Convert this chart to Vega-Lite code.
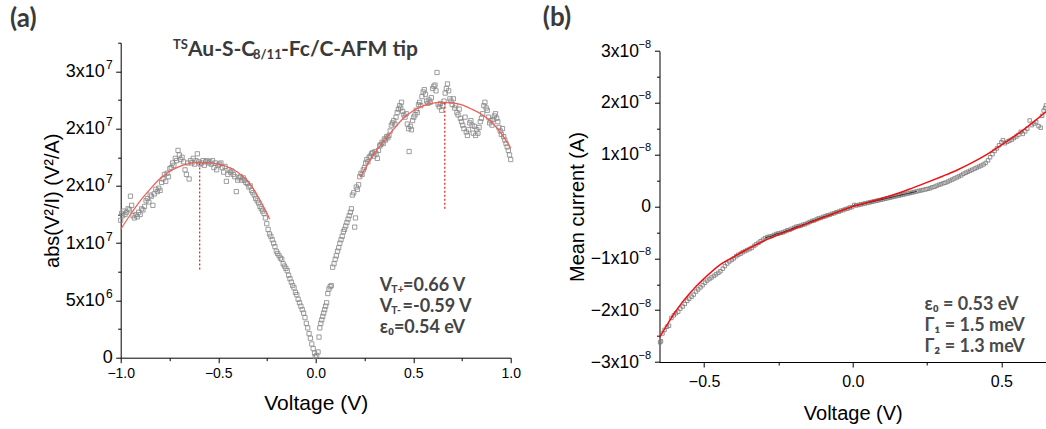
{
  "$schema": "https://vega.github.io/schema/vega-lite/v6.json",
  "background": "white",
  "autosize": {"type": "none"},
  "padding": {"left": 120.7, "top": 42.7, "right": 0, "bottom": 67},
  "width": 925.3,
  "height": 319.3,
  "datasets": {
    "scatterA": [
      {"V": -1.000, "y": 1.20e7}, {"V": -0.995, "y": 1.26e7}, {"V": -0.990, "y": 1.24e7}, {"V": -0.985, "y": 1.28e7}, {"V": -0.978, "y": 1.25e7},
      {"V": -0.970, "y": 1.27e7}, {"V": -0.962, "y": 1.30e7}, {"V": -0.955, "y": 1.29e7}, {"V": -0.950, "y": 1.41e7}, {"V": -0.944, "y": 1.33e7},
      {"V": -0.937, "y": 1.24e7}, {"V": -0.930, "y": 1.22e7}, {"V": -0.922, "y": 1.25e7}, {"V": -0.915, "y": 1.23e7}, {"V": -0.908, "y": 1.27e7},
      {"V": -0.900, "y": 1.25e7}, {"V": -0.893, "y": 1.30e7}, {"V": -0.886, "y": 1.29e7}, {"V": -0.878, "y": 1.32e7}, {"V": -0.870, "y": 1.37e7},
      {"V": -0.863, "y": 1.39e7}, {"V": -0.856, "y": 1.36e7}, {"V": -0.849, "y": 1.42e7}, {"V": -0.842, "y": 1.41e7}, {"V": -0.835, "y": 1.33e7},
      {"V": -0.828, "y": 1.43e7}, {"V": -0.820, "y": 1.47e7}, {"V": -0.812, "y": 1.45e7}, {"V": -0.805, "y": 1.48e7}, {"V": -0.798, "y": 1.46e7},
      {"V": -0.790, "y": 1.53e7}, {"V": -0.783, "y": 1.56e7}, {"V": -0.776, "y": 1.60e7}, {"V": -0.769, "y": 1.54e7}, {"V": -0.762, "y": 1.61e7},
      {"V": -0.755, "y": 1.58e7}, {"V": -0.748, "y": 1.65e7}, {"V": -0.741, "y": 1.66e7}, {"V": -0.734, "y": 1.70e7}, {"V": -0.727, "y": 1.68e7},
      {"V": -0.720, "y": 1.74e7}, {"V": -0.713, "y": 1.72e7}, {"V": -0.706, "y": 1.81e7}, {"V": -0.699, "y": 1.77e7}, {"V": -0.692, "y": 1.73e7},
      {"V": -0.685, "y": 1.75e7}, {"V": -0.678, "y": 1.71e7}, {"V": -0.670, "y": 1.64e7}, {"V": -0.663, "y": 1.60e7}, {"V": -0.656, "y": 1.70e7},
      {"V": -0.649, "y": 1.56e7}, {"V": -0.642, "y": 1.72e7}, {"V": -0.635, "y": 1.70e7}, {"V": -0.628, "y": 1.74e7}, {"V": -0.621, "y": 1.69e7},
      {"V": -0.614, "y": 1.72e7}, {"V": -0.607, "y": 1.78e7}, {"V": -0.600, "y": 1.71e7}, {"V": -0.593, "y": 1.69e7}, {"V": -0.586, "y": 1.70e7},
      {"V": -0.578, "y": 1.72e7}, {"V": -0.571, "y": 1.68e7}, {"V": -0.564, "y": 1.71e7}, {"V": -0.557, "y": 1.72e7}, {"V": -0.550, "y": 1.70e7},
      {"V": -0.543, "y": 1.71e7}, {"V": -0.536, "y": 1.69e7}, {"V": -0.529, "y": 1.72e7}, {"V": -0.522, "y": 1.66e7}, {"V": -0.515, "y": 1.70e7},
      {"V": -0.508, "y": 1.64e7}, {"V": -0.500, "y": 1.68e7}, {"V": -0.493, "y": 1.69e7}, {"V": -0.486, "y": 1.70e7}, {"V": -0.479, "y": 1.66e7},
      {"V": -0.472, "y": 1.62e7}, {"V": -0.465, "y": 1.67e7}, {"V": -0.458, "y": 1.54e7}, {"V": -0.451, "y": 1.60e7}, {"V": -0.444, "y": 1.64e7},
      {"V": -0.437, "y": 1.62e7}, {"V": -0.430, "y": 1.63e7}, {"V": -0.422, "y": 1.60e7}, {"V": -0.415, "y": 1.58e7}, {"V": -0.407, "y": 1.45e7},
      {"V": -0.400, "y": 1.55e7}, {"V": -0.393, "y": 1.57e7}, {"V": -0.386, "y": 1.58e7}, {"V": -0.379, "y": 1.55e7}, {"V": -0.372, "y": 1.57e7},
      {"V": -0.365, "y": 1.55e7}, {"V": -0.358, "y": 1.53e7}, {"V": -0.350, "y": 1.52e7}, {"V": -0.343, "y": 1.49e7}, {"V": -0.336, "y": 1.50e7},
      {"V": -0.329, "y": 1.46e7}, {"V": -0.322, "y": 1.44e7}, {"V": -0.315, "y": 1.42e7}, {"V": -0.308, "y": 1.39e7}, {"V": -0.300, "y": 1.37e7},
      {"V": -0.293, "y": 1.35e7}, {"V": -0.286, "y": 1.32e7}, {"V": -0.279, "y": 1.30e7}, {"V": -0.272, "y": 1.28e7}, {"V": -0.265, "y": 1.26e7},
      {"V": -0.258, "y": 1.22e7}, {"V": -0.251, "y": 1.17e7}, {"V": -0.244, "y": 1.12e7}, {"V": -0.237, "y": 1.08e7}, {"V": -0.230, "y": 1.06e7},
      {"V": -0.223, "y": 1.03e7}, {"V": -0.216, "y": 1.00e7}, {"V": -0.209, "y": 0.97e7}, {"V": -0.202, "y": 0.93e7}, {"V": -0.195, "y": 0.91e7},
      {"V": -0.188, "y": 0.89e7}, {"V": -0.181, "y": 0.87e7}, {"V": -0.174, "y": 0.86e7}, {"V": -0.167, "y": 0.82e7}, {"V": -0.160, "y": 0.80e7},
      {"V": -0.153, "y": 0.78e7}, {"V": -0.146, "y": 0.76e7}, {"V": -0.139, "y": 0.72e7}, {"V": -0.132, "y": 0.69e7}, {"V": -0.125, "y": 0.66e7},
      {"V": -0.118, "y": 0.63e7}, {"V": -0.111, "y": 0.61e7}, {"V": -0.104, "y": 0.57e7}, {"V": -0.097, "y": 0.55e7}, {"V": -0.090, "y": 0.51e7},
      {"V": -0.083, "y": 0.48e7}, {"V": -0.076, "y": 0.45e7}, {"V": -0.069, "y": 0.42e7}, {"V": -0.062, "y": 0.39e7}, {"V": -0.055, "y": 0.35e7},
      {"V": -0.048, "y": 0.30e7}, {"V": -0.041, "y": 0.26e7}, {"V": -0.034, "y": 0.21e7}, {"V": -0.027, "y": 0.17e7}, {"V": -0.020, "y": 0.12e7},
      {"V": -0.013, "y": 0.08e7}, {"V": -0.006, "y": 0.04e7}, {"V": -0.002, "y": 0.01e7}, {"V": 0.005, "y": 0.02e7}, {"V": 0.012, "y": 0.05e7},
      {"V": 0.017, "y": 0.18e7}, {"V": 0.021, "y": 0.26e7}, {"V": 0.026, "y": 0.30e7}, {"V": 0.031, "y": 0.33e7}, {"V": 0.036, "y": 0.36e7},
      {"V": 0.041, "y": 0.39e7}, {"V": 0.046, "y": 0.42e7}, {"V": 0.051, "y": 0.45e7}, {"V": 0.056, "y": 0.48e7}, {"V": 0.062, "y": 0.56e7},
      {"V": 0.068, "y": 0.60e7}, {"V": 0.074, "y": 0.62e7}, {"V": 0.080, "y": 0.63e7}, {"V": 0.087, "y": 0.79e7}, {"V": 0.094, "y": 0.82e7},
      {"V": 0.100, "y": 0.86e7}, {"V": 0.106, "y": 0.89e7}, {"V": 0.112, "y": 0.93e7}, {"V": 0.118, "y": 0.96e7}, {"V": 0.124, "y": 1.00e7},
      {"V": 0.130, "y": 1.03e7}, {"V": 0.136, "y": 1.06e7}, {"V": 0.142, "y": 1.10e7}, {"V": 0.148, "y": 1.12e7}, {"V": 0.154, "y": 1.15e7},
      {"V": 0.160, "y": 1.18e7}, {"V": 0.166, "y": 1.21e7}, {"V": 0.172, "y": 1.24e7}, {"V": 0.178, "y": 1.27e7}, {"V": 0.183, "y": 1.30e7},
      {"V": 0.188, "y": 1.42e7}, {"V": 0.195, "y": 1.44e7}, {"V": 0.200, "y": 1.14e7}, {"V": 0.204, "y": 1.22e7}, {"V": 0.208, "y": 1.49e7},
      {"V": 0.214, "y": 1.47e7}, {"V": 0.220, "y": 1.51e7}, {"V": 0.226, "y": 1.58e7}, {"V": 0.232, "y": 1.61e7}, {"V": 0.238, "y": 1.60e7},
      {"V": 0.244, "y": 1.64e7}, {"V": 0.250, "y": 1.66e7}, {"V": 0.256, "y": 1.70e7}, {"V": 0.262, "y": 1.73e7}, {"V": 0.268, "y": 1.71e7},
      {"V": 0.274, "y": 1.75e7}, {"V": 0.280, "y": 1.76e7}, {"V": 0.286, "y": 1.78e7}, {"V": 0.292, "y": 1.79e7}, {"V": 0.298, "y": 1.76e7},
      {"V": 0.304, "y": 1.80e7}, {"V": 0.310, "y": 1.78e7}, {"V": 0.316, "y": 1.74e7}, {"V": 0.322, "y": 1.81e7}, {"V": 0.328, "y": 1.85e7},
      {"V": 0.334, "y": 1.86e7}, {"V": 0.340, "y": 1.88e7}, {"V": 0.346, "y": 1.87e7}, {"V": 0.352, "y": 1.91e7}, {"V": 0.358, "y": 1.90e7},
      {"V": 0.364, "y": 1.93e7}, {"V": 0.370, "y": 1.92e7}, {"V": 0.376, "y": 1.94e7}, {"V": 0.382, "y": 1.98e7}, {"V": 0.388, "y": 2.03e7},
      {"V": 0.394, "y": 2.05e7}, {"V": 0.400, "y": 2.07e7}, {"V": 0.406, "y": 2.04e7}, {"V": 0.412, "y": 2.10e7}, {"V": 0.418, "y": 2.14e7},
      {"V": 0.424, "y": 2.17e7}, {"V": 0.430, "y": 2.20e7}, {"V": 0.436, "y": 2.18e7}, {"V": 0.440, "y": 2.23e7}, {"V": 0.446, "y": 2.15e7},
      {"V": 0.452, "y": 2.12e7}, {"V": 0.458, "y": 2.10e7}, {"V": 0.464, "y": 2.13e7}, {"V": 0.470, "y": 2.04e7}, {"V": 0.476, "y": 2.00e7},
      {"V": 0.479, "y": 1.80e7}, {"V": 0.485, "y": 2.02e7}, {"V": 0.491, "y": 1.99e7}, {"V": 0.497, "y": 2.07e7}, {"V": 0.503, "y": 2.10e7},
      {"V": 0.509, "y": 2.12e7}, {"V": 0.515, "y": 2.16e7}, {"V": 0.521, "y": 2.14e7}, {"V": 0.527, "y": 2.21e7}, {"V": 0.533, "y": 2.23e7},
      {"V": 0.539, "y": 2.20e7}, {"V": 0.545, "y": 2.28e7}, {"V": 0.551, "y": 2.32e7}, {"V": 0.557, "y": 2.34e7}, {"V": 0.563, "y": 2.30e7},
      {"V": 0.569, "y": 2.24e7}, {"V": 0.575, "y": 2.22e7}, {"V": 0.581, "y": 2.25e7}, {"V": 0.587, "y": 2.23e7}, {"V": 0.593, "y": 2.27e7},
      {"V": 0.600, "y": 2.35e7}, {"V": 0.606, "y": 2.37e7}, {"V": 0.612, "y": 2.38e7}, {"V": 0.617, "y": 2.33e7}, {"V": 0.622, "y": 2.49e7},
      {"V": 0.628, "y": 2.21e7}, {"V": 0.634, "y": 2.19e7}, {"V": 0.640, "y": 2.22e7}, {"V": 0.646, "y": 2.16e7}, {"V": 0.652, "y": 2.20e7},
      {"V": 0.658, "y": 2.24e7}, {"V": 0.664, "y": 2.31e7}, {"V": 0.670, "y": 2.35e7}, {"V": 0.676, "y": 2.39e7}, {"V": 0.682, "y": 2.33e7},
      {"V": 0.688, "y": 2.26e7}, {"V": 0.694, "y": 2.24e7}, {"V": 0.700, "y": 2.21e7}, {"V": 0.706, "y": 2.26e7}, {"V": 0.712, "y": 2.18e7},
      {"V": 0.718, "y": 2.20e7}, {"V": 0.724, "y": 2.14e7}, {"V": 0.730, "y": 2.12e7}, {"V": 0.736, "y": 2.17e7}, {"V": 0.742, "y": 2.09e7},
      {"V": 0.748, "y": 2.06e7}, {"V": 0.754, "y": 2.03e7}, {"V": 0.760, "y": 2.00e7}, {"V": 0.766, "y": 2.10e7}, {"V": 0.772, "y": 1.97e7},
      {"V": 0.778, "y": 1.94e7}, {"V": 0.784, "y": 1.99e7}, {"V": 0.790, "y": 2.05e7}, {"V": 0.796, "y": 2.07e7}, {"V": 0.802, "y": 2.03e7},
      {"V": 0.808, "y": 1.96e7}, {"V": 0.814, "y": 2.02e7}, {"V": 0.820, "y": 1.94e7}, {"V": 0.826, "y": 1.99e7}, {"V": 0.832, "y": 1.96e7},
      {"V": 0.838, "y": 2.01e7}, {"V": 0.844, "y": 2.06e7}, {"V": 0.850, "y": 2.09e7}, {"V": 0.856, "y": 2.13e7}, {"V": 0.862, "y": 2.20e7},
      {"V": 0.868, "y": 2.23e7}, {"V": 0.874, "y": 2.18e7}, {"V": 0.880, "y": 2.16e7}, {"V": 0.886, "y": 2.10e7}, {"V": 0.892, "y": 2.05e7},
      {"V": 0.898, "y": 2.07e7}, {"V": 0.904, "y": 2.03e7}, {"V": 0.910, "y": 2.08e7}, {"V": 0.916, "y": 2.11e7}, {"V": 0.922, "y": 2.13e7},
      {"V": 0.928, "y": 2.09e7}, {"V": 0.934, "y": 2.06e7}, {"V": 0.940, "y": 2.01e7}, {"V": 0.946, "y": 1.98e7}, {"V": 0.952, "y": 1.95e7},
      {"V": 0.958, "y": 2.00e7}, {"V": 0.964, "y": 1.93e7}, {"V": 0.970, "y": 1.90e7}, {"V": 0.976, "y": 1.87e7}, {"V": 0.982, "y": 1.84e7},
      {"V": 0.988, "y": 1.81e7}, {"V": 0.994, "y": 1.77e7}, {"V": 1.000, "y": 1.73e7}
    ],
    "fitA": [
      {"seg": "neg", "V": -1.00, "y": 1.12e7}, {"seg": "neg", "V": -0.95, "y": 1.25e7}, {"seg": "neg", "V": -0.90, "y": 1.37e7},
      {"seg": "neg", "V": -0.85, "y": 1.47e7}, {"seg": "neg", "V": -0.80, "y": 1.56e7}, {"seg": "neg", "V": -0.75, "y": 1.625e7},
      {"seg": "neg", "V": -0.70, "y": 1.668e7}, {"seg": "neg", "V": -0.65, "y": 1.694e7}, {"seg": "neg", "V": -0.60, "y": 1.705e7},
      {"seg": "neg", "V": -0.55, "y": 1.702e7}, {"seg": "neg", "V": -0.50, "y": 1.69e7}, {"seg": "neg", "V": -0.45, "y": 1.665e7},
      {"seg": "neg", "V": -0.40, "y": 1.62e7}, {"seg": "neg", "V": -0.35, "y": 1.545e7}, {"seg": "neg", "V": -0.30, "y": 1.42e7},
      {"seg": "neg", "V": -0.25, "y": 1.26e7}, {"seg": "neg", "V": -0.236, "y": 1.208e7},
      {"seg": "pos", "V": 0.229, "y": 1.574e7}, {"seg": "pos", "V": 0.25, "y": 1.64e7}, {"seg": "pos", "V": 0.30, "y": 1.78e7},
      {"seg": "pos", "V": 0.35, "y": 1.89e7}, {"seg": "pos", "V": 0.40, "y": 1.995e7}, {"seg": "pos", "V": 0.45, "y": 2.09e7},
      {"seg": "pos", "V": 0.50, "y": 2.155e7}, {"seg": "pos", "V": 0.55, "y": 2.198e7}, {"seg": "pos", "V": 0.60, "y": 2.222e7},
      {"seg": "pos", "V": 0.65, "y": 2.229e7}, {"seg": "pos", "V": 0.70, "y": 2.225e7}, {"seg": "pos", "V": 0.75, "y": 2.207e7},
      {"seg": "pos", "V": 0.80, "y": 2.17e7}, {"seg": "pos", "V": 0.85, "y": 2.125e7}, {"seg": "pos", "V": 0.90, "y": 2.06e7},
      {"seg": "pos", "V": 0.95, "y": 1.96e7}, {"seg": "pos", "V": 1.00, "y": 1.832e7}
    ],
    "dotA": [
      {"V": -0.595, "y": 0.77e7, "y2": 1.705e7},
      {"V": 0.662, "y": 1.30e7, "y2": 2.229e7}
    ],
    "scatterB": [
      {"V": -0.648, "I": -2.62e-8}, {"V": -0.645, "I": -2.60e-8}, {"V": -0.640, "I": -2.45e-8}, {"V": -0.633, "I": -2.38e-8}, {"V": -0.625, "I": -2.32e-8},
      {"V": -0.618, "I": -2.30e-8}, {"V": -0.610, "I": -2.15e-8}, {"V": -0.602, "I": -2.10e-8}, {"V": -0.595, "I": -2.06e-8}, {"V": -0.587, "I": -2.03e-8},
      {"V": -0.580, "I": -1.97e-8}, {"V": -0.572, "I": -1.93e-8}, {"V": -0.565, "I": -1.88e-8}, {"V": -0.557, "I": -1.82e-8}, {"V": -0.550, "I": -1.78e-8},
      {"V": -0.542, "I": -1.74e-8}, {"V": -0.535, "I": -1.70e-8}, {"V": -0.527, "I": -1.64e-8}, {"V": -0.520, "I": -1.60e-8}, {"V": -0.512, "I": -1.56e-8},
      {"V": -0.505, "I": -1.52e-8}, {"V": -0.497, "I": -1.47e-8}, {"V": -0.490, "I": -1.43e-8}, {"V": -0.482, "I": -1.40e-8}, {"V": -0.475, "I": -1.37e-8},
      {"V": -0.467, "I": -1.34e-8}, {"V": -0.460, "I": -1.31e-8}, {"V": -0.452, "I": -1.28e-8}, {"V": -0.445, "I": -1.25e-8}, {"V": -0.437, "I": -1.20e-8},
      {"V": -0.430, "I": -1.15e-8}, {"V": -0.422, "I": -1.10e-8}, {"V": -0.415, "I": -1.06e-8}, {"V": -0.407, "I": -1.03e-8}, {"V": -0.400, "I": -1.00e-8},
      {"V": -0.392, "I": -0.96e-8}, {"V": -0.385, "I": -0.93e-8}, {"V": -0.377, "I": -0.91e-8}, {"V": -0.370, "I": -0.88e-8}, {"V": -0.362, "I": -0.86e-8},
      {"V": -0.355, "I": -0.84e-8}, {"V": -0.347, "I": -0.82e-8}, {"V": -0.340, "I": -0.80e-8}, {"V": -0.332, "I": -0.76e-8}, {"V": -0.325, "I": -0.73e-8},
      {"V": -0.317, "I": -0.70e-8}, {"V": -0.310, "I": -0.67e-8}, {"V": -0.302, "I": -0.64e-8}, {"V": -0.295, "I": -0.61e-8}, {"V": -0.287, "I": -0.59e-8},
      {"V": -0.280, "I": -0.58e-8}, {"V": -0.272, "I": -0.57e-8}, {"V": -0.265, "I": -0.55e-8}, {"V": -0.257, "I": -0.53e-8}, {"V": -0.250, "I": -0.52e-8},
      {"V": -0.242, "I": -0.51e-8}, {"V": -0.235, "I": -0.50e-8}, {"V": -0.227, "I": -0.48e-8}, {"V": -0.220, "I": -0.46e-8}, {"V": -0.212, "I": -0.45e-8},
      {"V": -0.205, "I": -0.43e-8}, {"V": -0.197, "I": -0.41e-8}, {"V": -0.190, "I": -0.39e-8}, {"V": -0.182, "I": -0.38e-8}, {"V": -0.175, "I": -0.37e-8},
      {"V": -0.167, "I": -0.35e-8}, {"V": -0.160, "I": -0.34e-8}, {"V": -0.152, "I": -0.32e-8}, {"V": -0.145, "I": -0.30e-8}, {"V": -0.137, "I": -0.28e-8},
      {"V": -0.130, "I": -0.27e-8}, {"V": -0.122, "I": -0.25e-8}, {"V": -0.115, "I": -0.23e-8}, {"V": -0.107, "I": -0.22e-8}, {"V": -0.100, "I": -0.20e-8},
      {"V": -0.092, "I": -0.19e-8}, {"V": -0.085, "I": -0.17e-8}, {"V": -0.077, "I": -0.16e-8}, {"V": -0.070, "I": -0.14e-8}, {"V": -0.062, "I": -0.13e-8},
      {"V": -0.055, "I": -0.11e-8}, {"V": -0.047, "I": -0.10e-8}, {"V": -0.040, "I": -0.08e-8}, {"V": -0.032, "I": -0.07e-8}, {"V": -0.025, "I": -0.05e-8},
      {"V": -0.017, "I": -0.04e-8}, {"V": -0.010, "I": -0.02e-8}, {"V": -0.002, "I": -0.01e-8}, {"V": 0.005, "I": 0.03e-8}, {"V": 0.012, "I": 0.02e-8},
      {"V": 0.020, "I": 0.03e-8}, {"V": 0.027, "I": 0.04e-8}, {"V": 0.035, "I": 0.05e-8}, {"V": 0.042, "I": 0.06e-8}, {"V": 0.050, "I": 0.07e-8},
      {"V": 0.057, "I": 0.08e-8}, {"V": 0.065, "I": 0.09e-8}, {"V": 0.072, "I": 0.10e-8}, {"V": 0.080, "I": 0.11e-8}, {"V": 0.087, "I": 0.12e-8},
      {"V": 0.095, "I": 0.13e-8}, {"V": 0.102, "I": 0.14e-8}, {"V": 0.110, "I": 0.15e-8}, {"V": 0.117, "I": 0.16e-8}, {"V": 0.125, "I": 0.17e-8},
      {"V": 0.132, "I": 0.18e-8}, {"V": 0.140, "I": 0.19e-8}, {"V": 0.147, "I": 0.20e-8}, {"V": 0.155, "I": 0.21e-8}, {"V": 0.162, "I": 0.22e-8},
      {"V": 0.170, "I": 0.23e-8}, {"V": 0.177, "I": 0.24e-8}, {"V": 0.185, "I": 0.25e-8}, {"V": 0.192, "I": 0.26e-8}, {"V": 0.200, "I": 0.27e-8},
      {"V": 0.207, "I": 0.28e-8}, {"V": 0.215, "I": 0.29e-8}, {"V": 0.222, "I": 0.30e-8}, {"V": 0.230, "I": 0.31e-8}, {"V": 0.237, "I": 0.32e-8},
      {"V": 0.245, "I": 0.33e-8}, {"V": 0.252, "I": 0.34e-8}, {"V": 0.260, "I": 0.35e-8}, {"V": 0.267, "I": 0.37e-8}, {"V": 0.275, "I": 0.38e-8},
      {"V": 0.282, "I": 0.40e-8}, {"V": 0.290, "I": 0.42e-8}, {"V": 0.297, "I": 0.43e-8}, {"V": 0.305, "I": 0.45e-8}, {"V": 0.312, "I": 0.46e-8},
      {"V": 0.320, "I": 0.48e-8}, {"V": 0.327, "I": 0.50e-8}, {"V": 0.335, "I": 0.52e-8}, {"V": 0.342, "I": 0.54e-8}, {"V": 0.350, "I": 0.56e-8},
      {"V": 0.357, "I": 0.58e-8}, {"V": 0.365, "I": 0.60e-8}, {"V": 0.372, "I": 0.63e-8}, {"V": 0.380, "I": 0.65e-8}, {"V": 0.387, "I": 0.67e-8},
      {"V": 0.395, "I": 0.69e-8}, {"V": 0.402, "I": 0.71e-8}, {"V": 0.410, "I": 0.73e-8}, {"V": 0.417, "I": 0.75e-8}, {"V": 0.425, "I": 0.77e-8},
      {"V": 0.432, "I": 0.79e-8}, {"V": 0.440, "I": 0.81e-8}, {"V": 0.447, "I": 0.84e-8}, {"V": 0.455, "I": 0.89e-8}, {"V": 0.462, "I": 0.95e-8},
      {"V": 0.470, "I": 1.01e-8}, {"V": 0.477, "I": 1.07e-8}, {"V": 0.485, "I": 1.12e-8}, {"V": 0.492, "I": 1.18e-8}, {"V": 0.500, "I": 1.24e-8},
      {"V": 0.505, "I": 1.28e-8}, {"V": 0.512, "I": 1.22e-8}, {"V": 0.520, "I": 1.25e-8}, {"V": 0.527, "I": 1.27e-8}, {"V": 0.535, "I": 1.29e-8},
      {"V": 0.542, "I": 1.32e-8}, {"V": 0.550, "I": 1.35e-8}, {"V": 0.557, "I": 1.38e-8}, {"V": 0.565, "I": 1.44e-8}, {"V": 0.572, "I": 1.40e-8},
      {"V": 0.580, "I": 1.45e-8}, {"V": 0.587, "I": 1.50e-8}, {"V": 0.595, "I": 1.66e-8}, {"V": 0.602, "I": 1.57e-8}, {"V": 0.610, "I": 1.60e-8},
      {"V": 0.617, "I": 1.63e-8}, {"V": 0.625, "I": 1.55e-8}, {"V": 0.632, "I": 1.52e-8}, {"V": 0.637, "I": 1.75e-8}, {"V": 0.642, "I": 1.85e-8},
      {"V": 0.647, "I": 1.90e-8}, {"V": 0.650, "I": 1.95e-8}
    ],
    "fitB": [
      {"V": -0.65, "I": -2.53e-8}, {"V": -0.62, "I": -2.24e-8}, {"V": -0.60, "I": -2.06e-8}, {"V": -0.575, "I": -1.86e-8},
      {"V": -0.55, "I": -1.69e-8}, {"V": -0.525, "I": -1.53e-8}, {"V": -0.50, "I": -1.39e-8}, {"V": -0.45, "I": -1.14e-8},
      {"V": -0.40, "I": -0.97e-8}, {"V": -0.35, "I": -0.81e-8}, {"V": -0.30, "I": -0.665e-8}, {"V": -0.25, "I": -0.545e-8},
      {"V": -0.20, "I": -0.435e-8}, {"V": -0.15, "I": -0.325e-8}, {"V": -0.10, "I": -0.215e-8}, {"V": -0.05, "I": -0.105e-8},
      {"V": 0.00, "I": 0.0}, {"V": 0.05, "I": 0.08e-8}, {"V": 0.10, "I": 0.16e-8}, {"V": 0.15, "I": 0.25e-8},
      {"V": 0.20, "I": 0.355e-8}, {"V": 0.25, "I": 0.465e-8}, {"V": 0.30, "I": 0.58e-8}, {"V": 0.35, "I": 0.70e-8},
      {"V": 0.40, "I": 0.84e-8}, {"V": 0.45, "I": 1.00e-8}, {"V": 0.50, "I": 1.185e-8}, {"V": 0.55, "I": 1.38e-8},
      {"V": 0.60, "I": 1.595e-8}, {"V": 0.65, "I": 1.825e-8}
    ]
  },
  "resolve": {"scale": {"x": "independent", "y": "independent"}, "axis": {"x": "independent", "y": "independent"}},
  "layer": [
    {
      "encoding": {
        "x": {
          "field": "V", "type": "quantitative",
          "scale": {"domain": [-1, 1], "range": [0, 390], "nice": false, "zero": false},
          "axis": {
            "orient": "bottom", "offset": -4.3, "domain": true, "ticks": true,
            "values": [-1, -0.75, -0.5, -0.25, 0, 0.25, 0.5, 0.75, 1],
            "labelExpr": "abs(datum.value*2 - round(datum.value*2)) > 0.001 ? '' : format(datum.value, '.1f')",
            "tickSize": {"condition": {"test": "abs(datum.value*2 - round(datum.value*2)) > 0.001", "value": 3}, "value": 5},
            "labelFontSize": 14, "labelPadding": 4, "labelFlush": false, "labelOverlap": false,
            "title": "Voltage (V)", "titleFontSize": 21, "titleY": 51.6, "titleBaseline": "alphabetic"
          }
        },
        "y": {
          "field": "y", "type": "quantitative",
          "scale": {"domain": [0, 27500000], "range": [315, 0], "nice": false, "zero": false},
          "axis": {
            "orient": "left", "domain": true, "ticks": true,
            "values": [0, 2500000, 5000000, 7500000, 10000000, 12500000, 15000000, 17500000, 20000000, 22500000, 25000000, 27500000],
            "labelExpr": "datum.value == 5000000 ? '5x10' : datum.value == 10000000 ? '1x10' : (datum.value == 15000000 || datum.value == 20000000) ? '2x10' : datum.value == 25000000 ? '3x10' : ''",
            "tickSize": {"condition": {"test": "datum.value % 5000000 !== 0", "value": 3}, "value": 5},
            "labelFontSize": 18, "labelPadding": 11.5, "labelFlush": false, "labelOverlap": false,
            "title": "abs(V²/I) (V²/A)", "titleFontSize": 20, "titleX": -68, "titleBaseline": "middle"
          }
        }
      },
      "layer": [
        {
          "data": {"name": "scatterA"},
          "mark": {"type": "point", "shape": "square", "filled": false, "size": 18, "stroke": "#858585", "strokeWidth": 0.8, "opacity": 1}
        },
        {
          "data": {"name": "fitA"},
          "mark": {"type": "line", "color": "#f25c54", "strokeWidth": 1.2, "interpolate": "monotone"},
          "encoding": {"detail": {"field": "seg"}}
        },
        {
          "data": {"name": "dotA"},
          "mark": {"type": "rule", "color": "#d8342b", "strokeWidth": 1.3, "strokeDash": [2, 2]},
          "encoding": {"y2": {"field": "y2"}}
        },
        {
          "data": {"values": [{"V": -1.5677, "y": 28910000, "t": "(a)"}]},
          "mark": {"type": "text", "align": "left", "baseline": "alphabetic", "font": "Lato", "fontWeight": "bold", "fontSize": 26, "color": "#3a3a3a"},
          "encoding": {"text": {"field": "t"}}
        },
        {
          "data": {"values": [
            {"V": -0.655, "y": 26330000, "t": "Au-S-C"},
            {"V": -0.178, "y": 26330000, "t": "-Fc/C-AFM tip"}
          ]},
          "mark": {"type": "text", "align": "left", "baseline": "alphabetic", "font": "Lato", "fontWeight": "bold", "fontSize": 21, "color": "#3a3a3a"},
          "encoding": {"text": {"field": "t"}}
        },
        {
          "data": {"values": [{"V": -0.732, "y": 26330000, "t": "TS"}]},
          "mark": {"type": "text", "align": "left", "baseline": "alphabetic", "font": "Lato", "fontWeight": "bold", "fontSize": 13, "dy": -7, "color": "#3a3a3a"},
          "encoding": {"text": {"field": "t"}}
        },
        {
          "data": {"values": [{"V": -0.3215, "y": 26330000, "t": "8/11"}]},
          "mark": {"type": "text", "align": "left", "baseline": "alphabetic", "font": "Lato", "fontWeight": "bold", "fontSize": 13, "dy": 3, "color": "#3a3a3a"},
          "encoding": {"text": {"field": "t"}}
        },
        {
          "data": {"values": [
            {"V": 0.328, "y": 5850000, "t": "V"},
            {"V": 0.448, "y": 5850000, "t": "=0.66 V"},
            {"V": 0.328, "y": 4010000, "t": "V"},
            {"V": 0.445, "y": 4010000, "t": "=-0.59 V"},
            {"V": 0.328, "y": 2150000, "t": "ε₀=0.54 eV"}
          ]},
          "mark": {"type": "text", "align": "left", "baseline": "alphabetic", "font": "Lato", "fontWeight": "bold", "fontSize": 18, "color": "#444444"},
          "encoding": {"text": {"field": "t"}}
        },
        {
          "data": {"values": [
            {"V": 0.388, "y": 5850000, "t": "T+"},
            {"V": 0.388, "y": 4010000, "t": "T-"}
          ]},
          "mark": {"type": "text", "align": "left", "baseline": "alphabetic", "font": "Lato", "fontWeight": "bold", "fontSize": 10.5, "dy": 2, "color": "#444444"},
          "encoding": {"text": {"field": "t"}}
        }
      ]
    },
    {
      "encoding": {
        "x": {
          "field": "V", "type": "quantitative",
          "scale": {"domain": [-0.65, 0.65], "range": [538.8, 925.3], "nice": false, "zero": false},
          "axis": {
            "orient": "bottom", "domain": true, "ticks": true,
            "values": [-0.5, -0.25, 0, 0.25, 0.5],
            "labelExpr": "abs(datum.value*2 - round(datum.value*2)) > 0.001 ? '' : format(datum.value, '.1f')",
            "tickSize": {"condition": {"test": "abs(datum.value*2 - round(datum.value*2)) > 0.001", "value": 3}, "value": 5},
            "labelFontSize": 16, "labelPadding": 6, "labelFlush": false, "labelOverlap": false,
            "title": "Voltage (V)", "titleFontSize": 20, "titleY": 57, "titleBaseline": "alphabetic"
          }
        },
        "y": {
          "field": "I", "type": "quantitative",
          "scale": {"domain": [-3e-8, 3e-8], "range": [319.3, 8.3], "nice": false, "zero": false},
          "axis": {
            "orient": "left", "offset": -538.8, "domain": true, "ticks": true,
            "values": [-3e-8, -2.5e-8, -2e-8, -1.5e-8, -1e-8, -5e-9, 0, 5e-9, 1e-8, 1.5e-8, 2e-8, 2.5e-8, 3e-8],
            "labelExpr": "(abs(datum.value*1e8 - round(datum.value*1e8)) > 0.01 || round(datum.value*1e8) == 0) ? '' : (datum.value < 0 ? '−' : '') + abs(round(datum.value*1e8)) + 'x10'",
            "tickSize": {"condition": {"test": "abs(datum.value*1e8 - round(datum.value*1e8)) > 0.01", "value": 3}, "value": 5},
            "labelFontSize": 17.5, "labelPadding": 16, "labelFlush": false, "labelOverlap": false,
            "title": "Mean current (A)", "titleFontSize": 20, "titleX": -82, "titleBaseline": "middle"
          }
        }
      },
      "layer": [
        {
          "data": {"name": "scatterB"},
          "mark": {"type": "point", "shape": "square", "filled": false, "size": 12, "stroke": "#7a7a7a", "strokeWidth": 0.8, "opacity": 1}
        },
        {
          "data": {"name": "scatterB"},
          "transform": [{"filter": "datum.V >= -0.3 && datum.V <= 0.22"}],
          "mark": {"type": "line", "color": "#2a2a2a", "strokeWidth": 1}
        },
        {
          "data": {"name": "fitB"},
          "mark": {"type": "line", "color": "#f01010", "strokeWidth": 1.5, "interpolate": "monotone"}
        },
        {
          "data": {"values": [{"V": -1.0427, "I": 3.473e-8, "t": "(b)"}]},
          "mark": {"type": "text", "align": "left", "baseline": "alphabetic", "font": "Lato", "fontWeight": "bold", "fontSize": 26, "color": "#3a3a3a"},
          "encoding": {"text": {"field": "t"}}
        },
        {
          "data": {"values": [
            {"V": 0.241, "I": -1.995e-8, "t": "ε₀ = 0.53 eV"},
            {"V": 0.241, "I": -2.395e-8, "t": "Γ₁ = 1.5 meV"},
            {"V": 0.241, "I": -2.80e-8, "t": "Γ₂ = 1.3 meV"}
          ]},
          "mark": {"type": "text", "align": "left", "baseline": "alphabetic", "font": "Lato", "fontWeight": "bold", "fontSize": 18, "color": "#4a4a4a"},
          "encoding": {"text": {"field": "t"}}
        }
      ]
    },
    {
      "data": {"name": "scatterA"},
      "mark": {"type": "point", "opacity": 0},
      "encoding": {
        "y": {
          "field": "y", "type": "quantitative",
          "scale": {"domain": [0, 27500000], "range": [315, 0], "nice": false, "zero": false},
          "axis": {
            "orient": "left",
            "values": [0, 5000000, 10000000, 15000000, 20000000, 25000000],
            "labelExpr": "datum.value == 0 ? '0' : datum.value == 5000000 ? '6' : '7'",
            "labelFontSize": {"condition": {"test": "datum.value == 0", "value": 18}, "value": 12},
            "labelOffset": {"condition": {"test": "datum.value == 0", "value": 0}, "value": -7},
            "ticks": false, "tickSize": 0, "domain": false, "labelPadding": 8.5,
            "labelFlush": false, "labelOverlap": false, "title": null
          }
        }
      }
    },
    {
      "data": {"name": "fitB"},
      "mark": {"type": "point", "opacity": 0},
      "encoding": {
        "y": {
          "field": "I", "type": "quantitative",
          "scale": {"domain": [-3e-8, 3e-8], "range": [319.3, 8.3], "nice": false, "zero": false},
          "axis": {
            "orient": "left", "offset": -538.8,
            "values": [-3e-8, -2e-8, -1e-8, 0, 1e-8, 2e-8, 3e-8],
            "labelExpr": "round(datum.value*1e8) == 0 ? '0' : '−8'",
            "labelFontSize": {"condition": {"test": "datum.value == 0", "value": 17.5}, "value": 11},
            "labelOffset": {"condition": {"test": "datum.value == 0", "value": 0}, "value": -7},
            "ticks": false, "tickSize": 0, "domain": false, "labelPadding": 9,
            "labelFlush": false, "labelOverlap": false, "title": null
          }
        }
      }
    }
  ],
  "config": {
    "view": {"stroke": null},
    "axis": {
      "grid": false,
      "domainColor": "#000000",
      "domainWidth": 1,
      "tickColor": "#000000",
      "tickWidth": 1,
      "labelColor": "#000000",
      "titleColor": "#000000",
      "labelFont": "Liberation Sans",
      "titleFont": "Liberation Sans",
      "titleFontWeight": "normal"
    }
  }
}
